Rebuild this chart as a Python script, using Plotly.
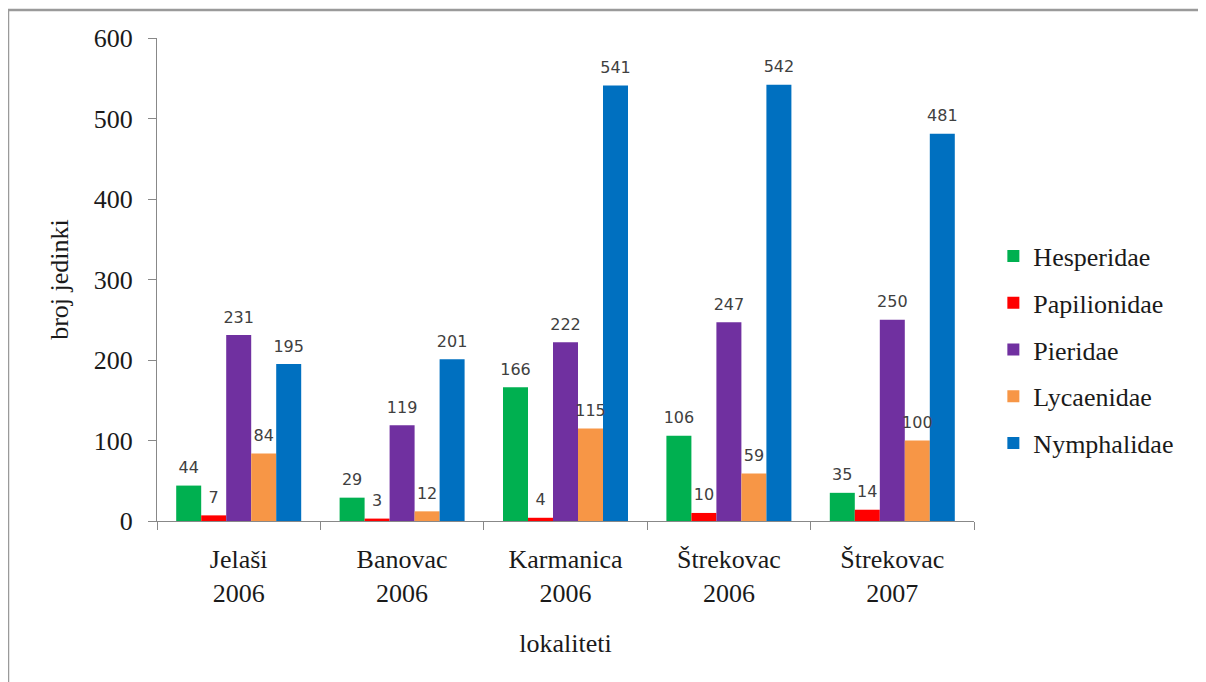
import plotly.graph_objects as go

categories = ["Jelaši<br>2006", "Banovac<br>2006", "Karmanica<br>2006", "Štrekovac<br>2006", "Štrekovac<br>2007"]
series_names = ["Hesperidae", "Papilionidae", "Pieridae", "Lycaenidae", "Nymphalidae"]
hesperidae = [44, 29, 166, 106, 35]
papilionidae = [7, 3, 4, 10, 14]
pieridae = [231, 119, 222, 247, 250]
lycaenidae = [84, 12, 115, 59, 100]
nymphalidae = [195, 201, 541, 542, 481]
colors = ["#00B050", "#FF0000", "#7030A0", "#F79646", "#0070C0"]
y_ticks = [0, 100, 200, 300, 400, 500, 600]

values = [hesperidae, papilionidae, pieridae, lycaenidae, nymphalidae]

SERIF = "Liberation Serif"
TXT = "#1a1a1a"
FS = 26
GAP = 0.235

fig = go.Figure()
for name, vals, col in zip(series_names, values, colors):
    fig.add_trace(go.Bar(
        name=name, x=categories, y=vals,
        marker=dict(color=col, line=dict(width=0)),
        offsetgroup=name, legendgroup=name,
    ))
# data labels (placed a little above each bar, like the original)
for name, vals in zip(series_names, values):
    fig.add_trace(go.Scatter(
        x=categories, y=vals, mode="markers+text",
        text=[str(v) for v in vals], textposition="top center",
        marker=dict(size=12, opacity=0, color="white"),
        textfont=dict(family="DejaVu Sans", size=16, color="#404040"),
        offsetgroup=name, legendgroup=name, showlegend=False,
        cliponaxis=False, hoverinfo="skip",
    ))

OFF = 8  # page body margin offset
L, R, T, B = 157 - OFF, 232 + OFF, 38 - OFF, 161 + OFF
W, H = 1206, 682
pw, ph = W - L - R, H - T - B

def px(x):
    return (x - OFF - L) / pw

def py(y):
    return (H - B - (y - OFF)) / ph

fig.update_layout(
    width=W, height=H,
    margin=dict(l=L, r=R, t=T, b=B, pad=0),
    paper_bgcolor="white", plot_bgcolor="white",
    barmode="group", bargap=GAP, bargroupgap=0,
    scattermode="group", scattergap=GAP,
    font=dict(family=SERIF, size=FS, color=TXT),
    showlegend=True,
    legend=dict(x=1.0237, xanchor="left", y=0.354, yanchor="middle",
                font=dict(family=SERIF, size=FS, color=TXT),
                tracegroupgap=10, bgcolor="rgba(0,0,0,0)"),
    xaxis=dict(
        type="category", tickson="boundaries", ticks="outside", ticklen=8,
        tickcolor="#888888", showline=True, linecolor="#888888", linewidth=1,
        showgrid=False, ticklabelstandoff=15,
        tickfont=dict(family=SERIF, size=FS, color=TXT),
        title=dict(text="lokaliteti", font=dict(family=SERIF, size=FS, color=TXT), standoff=26),
    ),
    yaxis=dict(
        range=[0, 600], tickvals=y_ticks, ticks="outside", ticklen=8,
        tickcolor="#888888", showline=True, linecolor="#888888", linewidth=1,
        showgrid=False, zeroline=False, ticklabelstandoff=10,
        tickfont=dict(family=SERIF, size=FS, color=TXT),
        title=dict(text="broj jedinki", font=dict(family=SERIF, size=FS, color=TXT), standoff=17),
    ),
    shapes=[dict(type="rect", xref="paper", yref="paper",
                 x0=px(8), x1=px(1202), y0=py(700), y1=py(10),
                 line=dict(color="#9a9a9a", width=2.5), fillcolor="rgba(0,0,0,0)", layer="below")],
)

fig.write_html("out.html")
